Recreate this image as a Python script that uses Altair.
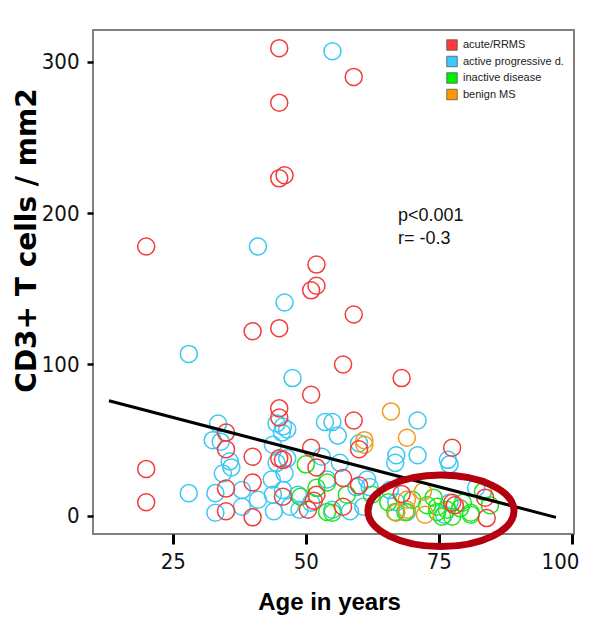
import altair as alt
import pandas as pd

groups = ["acute/RRMS", "active progressive d.", "inactive disease", "benign MS"]
colors = ["#f23c3c", "#3cc8f2", "#1ee61e", "#f29a1e"]
legend_colors = ["#ff3a3a", "#3cc8ff", "#00f000", "#ff9900"]

# acute/RRMS
red_age = [20, 20, 20, 35, 35, 35, 35, 40, 40, 40, 40,
           45, 45, 45, 46, 45, 45, 45, 45, 45.7, 45.7,
           51, 52, 52, 51, 51, 52, 52, 51.5, 50.4,
           57, 57, 57, 59, 59, 59, 60, 60,
           68, 68, 77.5, 77.5, 78, 84, 83.7]
red_cd3 = [178, 31, 9, 55, 44, 18, 3, 122, 39, 22, -1,
           309, 273, 223, 225, 124, 71, 65, 38, 12.6, 37,
           149, 152, 166, 80, 45, 32, 14, 10, 4,
           100, 25, 6, 290, 133, 63, 44, 20,
           91, 14.5, 45, 8.6, 7, -1.5, 12]

# active progressive disease
blue_age = [55, 41, 46, 28, 47.5, 28,
            33.5, 32.5, 34, 35.7, 36, 34.4, 33, 38, 33, 38, 41,
            43.8, 44.5, 43.6, 43.8, 44, 45.5, 46, 44.5,
            45.7, 46.5, 45.7, 47, 48.5, 48.8, 51, 46.5,
            53, 56.4, 54, 61.5, 59.5, 62, 60.8, 58.3, 55,
            53.6, 55, 56, 71, 60,
            67, 71, 66.8, 76.7, 77,
            65.8, 67, 69, 77, 82, 76]
blue_cd3 = [307, 178, 141, 107, 91, 15,
            61, 50, 49, 36, 32, 28, 15, 17, 2, 6, 10.6,
            47, 61, 24, 14, 3, 55, 28, 35,
            59, 38, 17, 6, 14, 4, 8.6, 57,
            39, 35, 24, 24, 19, 19, 6, 3, 4,
            62, 62, 53, 63, 48,
            40, 40, 35, 37, 34,
            17, 9, 2.6, 8.6, 18.5, 0.7]

# inactive disease
green_age = [50, 52, 54, 57.7, 62.4, 49, 54, 55,
             65.5, 66.8, 68.7, 70, 72.8, 74, 74.7, 76.5, 79, 81,
             74.7, 75.6, 77.5, 81, 83.3, 84.6, 79.5]
green_cd3 = [34, 18.5, 2.6, 14, 14, 12.6, 22, 2,
             9, 2.6, 2.6, 10.6, 7, 12, 2.6, 4, 5, 2,
             6, -0.6, -0.6, 0.7, 16, 7, 8.6]

# benign MS
orange_age = [66, 69, 61, 61, 72, 67, 69, 72.4, 69]
orange_cd3 = [69, 51.6, 50, 47, 16, 2, 10.6, 0.7, 4]

# regression line end points
fit_age = [13, 97]
fit_cd3 = [76, -1]

# annotation
note_age = [67.3, 67.3]
note_cd3 = [198.3, 183]
note_text = ["p<0.001", "r= -0.3"]

# highlight ellipse centre
ring_age = [75.4]
ring_cd3 = [3.3]

rows = []
for g, ages, vals in [
    (groups[1], blue_age, blue_cd3),
    (groups[2], green_age, green_cd3),
    (groups[3], orange_age, orange_cd3),
    (groups[0], red_age, red_cd3),
]:
    for a, v in zip(ages, vals):
        rows.append({"age": a, "cd3": v, "group": g})
df = pd.DataFrame(rows)

xscale = alt.Scale(domain=[10, 100.4], nice=False, zero=False)
yscale = alt.Scale(domain=[-12, 321], nice=False, zero=False)

tick_font = "'Liberation Sans Narrow', 'DejaVu Sans Condensed', 'Arial Narrow', sans-serif"

xaxis = alt.Axis(values=[25, 50, 75, 100], title="Age in years", domain=False, grid=False,
                 ticks=True, tickColor="#000000", tickSize=10, tickWidth=3,
                 labelFont=tick_font, labelFontSize=22, labelColor="#111111", labelPadding=7,
                 labelFlush=4, labelFlushOffset=7,
                 titleFont="Liberation Sans", titleFontSize=24, titleFontWeight="bold",
                 titleColor="#000000", titleX=236, titleY=68, titleBaseline="middle")
yaxis = alt.Axis(values=[0, 100, 200, 300], title="CD3+ T cells / mm2", domain=False, grid=False,
                 ticks=True, tickColor="#000000", tickSize=6, tickWidth=2.5,
                 labelFont=tick_font, labelFontSize=22, labelColor="#111111", labelPadding=8,
                 titleFont="DejaVu Sans", titleFontSize=28, titleFontWeight="bold",
                 titleColor="#000000", titleX=-66, titleY=210, titleBaseline="middle",
                 titleAngle=-90)

# stroke scale listed in reverse order so its legend is not merged with the fill legend
points = alt.Chart(df).mark_point(shape="circle", filled=False, size=290, strokeWidth=1.5, opacity=1).encode(
    x=alt.X("age:Q", scale=xscale, axis=xaxis),
    y=alt.Y("cd3:Q", scale=yscale, axis=yaxis),
    stroke=alt.Stroke("group:N", scale=alt.Scale(domain=groups[::-1], range=colors[::-1]),
                      legend=None),
)

legend_df = pd.DataFrame({"status": groups})
legend_layer = alt.Chart(legend_df).mark_square(size=0, opacity=1).encode(
    fill=alt.Fill("status:N", scale=alt.Scale(domain=groups, range=legend_colors),
                  legend=alt.Legend(title=None, orient="none", legendX=353, legendY=9,
                                    symbolType="square", symbolSize=110, symbolOpacity=1,
                                    symbolStrokeColor="#555555", symbolStrokeWidth=0.8,
                                    labelFont="Liberation Sans", labelFontSize=11,
                                    labelColor="#222222", labelOffset=5, rowPadding=2.5, padding=0)),
)

fit_df = pd.DataFrame({"age": fit_age, "cd3": fit_cd3})
fit = alt.Chart(fit_df).mark_line(color="#000000", strokeWidth=3).encode(
    x=alt.X("age:Q", scale=xscale), y=alt.Y("cd3:Q", scale=yscale))

note_df = pd.DataFrame({"age": note_age, "cd3": note_cd3, "label": note_text})
notes = alt.Chart(note_df).mark_text(align="left", baseline="middle", fontSize=18,
                                     font="Liberation Sans", color="#111111").encode(
    x=alt.X("age:Q", scale=xscale), y=alt.Y("cd3:Q", scale=yscale), text="label:N")

ring_df = pd.DataFrame({"age": ring_age, "cd3": ring_cd3})
ring = alt.Chart(ring_df).mark_point(
    shape="M -1 0 A 1 0.49 0 1 0 1 0 A 1 0.49 0 1 0 -1 0 Z",
    filled=False, size=21316, stroke="#b4000f", strokeWidth=7, opacity=1).encode(
    x=alt.X("age:Q", scale=xscale), y=alt.Y("cd3:Q", scale=yscale))

chart = alt.layer(points, legend_layer, fit, notes, ring).properties(
    width=481, height=504,
    autosize=alt.AutoSizeParams(type="none"),
    padding={"left": 85, "top": 22, "right": 7, "bottom": 85},
    background="#ffffff",
).configure_view(stroke="#808080", strokeWidth=2)

chart.save("out.html", embed_options={"renderer": "svg", "actions": False})
